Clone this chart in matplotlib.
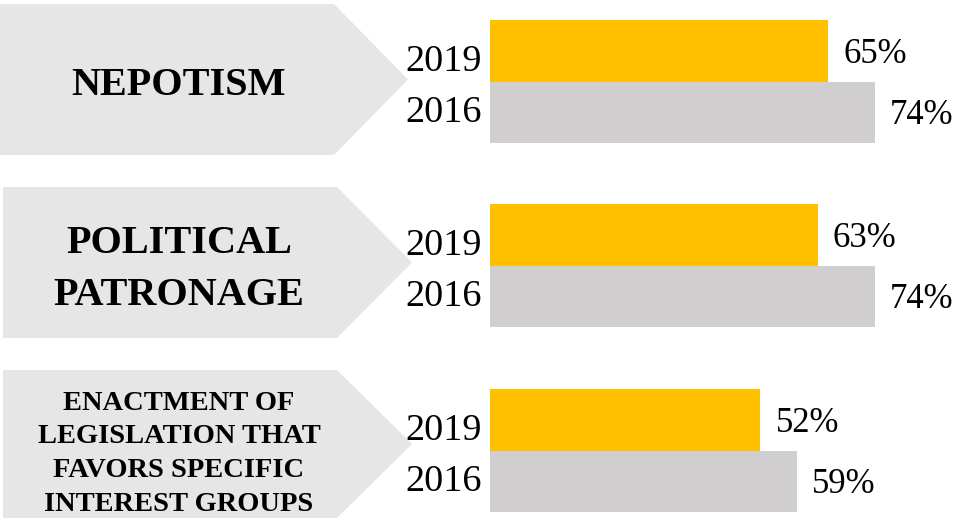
import matplotlib.pyplot as plt
from matplotlib.patches import Polygon

categories = ["NEPOTISM", "POLITICAL\nPATRONAGE",
              "ENACTMENT OF\nLEGISLATION THAT\nFAVORS SPECIFIC\nINTEREST GROUPS"]
years = ["2019", "2016"]
values_2019 = [65, 63, 52]
values_2016 = [74, 74, 59]

YELLOW = "#FFC000"
GREY = "#D0CECE"
ARROW = "#E6E6E6"
FONT = "Liberation Serif"

W, H = 960, 519
fig = plt.figure(figsize=(W / 100, H / 100), dpi=100)

# layout axes in pixel units
ax = fig.add_axes([0, 0, 1, 1])
ax.set_xlim(0, W)
ax.set_ylim(H, 0)
ax.axis("off")

# bar axes: 5.2 px per percent, starting at x=490
bar_x0 = 490
px_per_pct = 5.2
axb = fig.add_axes([bar_x0 / W, 0, (W - bar_x0) / W, 1])
axb.set_xlim(0, (W - bar_x0) / px_per_pct)
axb.set_ylim(H, 0)
axb.axis("off")

group_top = [20, 204, 389]
bar_h = 61.5
arrow_top = [4, 187, 370]
arrow_h = [151, 151, 148]
label_sizes = [29, 29, 20.5]
# baseline of each label line, relative to arrow top
label_baselines = [[91], [66, 118], [40, 73, 107, 141]]

for i, cat in enumerate(categories):
    top = arrow_top[i]
    bot = top + arrow_h[i]
    mid = (top + bot) / 2
    x0 = 0 if i == 0 else 3
    edge = 334 if i == 0 else 337
    tip = 408 if i == 0 else 412
    ax.add_patch(Polygon([(x0, top), (edge, top), (tip, mid), (edge, bot), (x0, bot)],
                         closed=True, facecolor=ARROW, edgecolor="none"))
    for line, base in zip(cat.split("\n"), label_baselines[i]):
        ax.text(179, top + base, line, ha="center", va="baseline",
                fontsize=label_sizes[i], fontweight="bold", family=FONT)

    g = group_top[i]
    y19 = g + bar_h / 2
    y16 = y19 + bar_h
    axb.barh([y19], [values_2019[i]], height=bar_h, color=YELLOW)
    axb.barh([y16], [values_2016[i]], height=bar_h, color=GREY)
    axb.text(values_2019[i] + 2.9, g + 43, f"{values_2019[i]}%", ha="left", va="baseline",
             fontsize=25, family=FONT)
    axb.text(values_2016[i] + 2.9, g + 104, f"{values_2016[i]}%", ha="left", va="baseline",
             fontsize=25, family=FONT)
    ax.text(482, g + 51, years[0], ha="right", va="baseline", fontsize=27.5, family=FONT)
    ax.text(482, g + 102, years[1], ha="right", va="baseline", fontsize=27.5, family=FONT)

fig.savefig("out.png", dpi=100)
